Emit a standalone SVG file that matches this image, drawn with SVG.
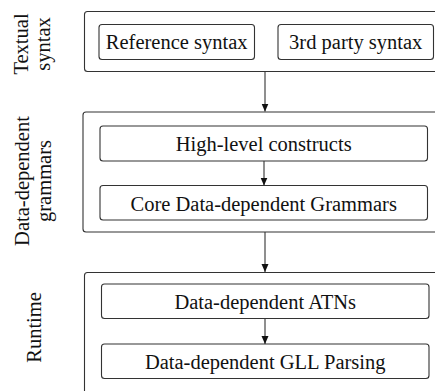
<svg xmlns="http://www.w3.org/2000/svg" width="435" height="391" viewBox="0 0 435 391">
  <defs>
    <marker id="arrow" viewBox="0 0 8 10" refX="8" refY="5" markerWidth="8" markerHeight="10" markerUnits="userSpaceOnUse" orient="auto">
      <path d="M0,1.5 L8,5 L0,8.5 Z" fill="#111"/>
    </marker>
    <style>
      .layer { fill: #fff; stroke: #333; stroke-width: 1.1; }
      .box { fill: #fff; stroke: #333; stroke-width: 1.1; }
      .lbl { font-family: "Liberation Serif", "Times New Roman", serif; font-size: 20.5px; fill: #111; text-anchor: middle; }
      .side { font-family: "Liberation Serif", "Times New Roman", serif; font-size: 20.5px; fill: #111; text-anchor: middle; }
      .edge { stroke: #333; stroke-width: 1.1; fill: none; marker-end: url(#arrow); }
    </style>
  </defs>

  <rect width="435" height="391" fill="#fff"/>

  <!-- Textual syntax layer -->
  <g id="layer-textual">
    <rect class="layer" x="84.5" y="11.5" width="420" height="60" rx="3"/>
    <text class="side" transform="translate(27.5,44) rotate(-90)">Textual</text>
    <text class="side" transform="translate(49.5,44) rotate(-90)">syntax</text>
  </g>
  <g id="reference-syntax">
    <rect class="box" x="99" y="24.5" width="155.5" height="35" rx="3"/>
    <text class="lbl" x="176.7" y="49.3">Reference syntax</text>
  </g>
  <g id="third-party-syntax">
    <rect class="box" x="278" y="24.5" width="155.5" height="35" rx="3"/>
    <text class="lbl" x="355.7" y="49.3">3rd party syntax</text>
  </g>

  <!-- Data-dependent grammars layer -->
  <g id="layer-grammars">
    <rect class="layer" x="83" y="112" width="420" height="120" rx="3"/>
    <text class="side" transform="translate(28.5,181) rotate(-90)">Data-dependent</text>
    <text class="side" transform="translate(50.5,181) rotate(-90)">grammars</text>
  </g>
  <g id="high-level-constructs">
    <rect class="box" x="100" y="126" width="327.5" height="35" rx="3"/>
    <text class="lbl" x="263.7" y="151">High-level constructs</text>
  </g>
  <g id="core-grammars">
    <rect class="box" x="100" y="185.5" width="327.5" height="34.5" rx="3"/>
    <text class="lbl" x="263.7" y="210.5">Core Data-dependent Grammars</text>
  </g>

  <!-- Runtime layer -->
  <g id="layer-runtime">
    <rect class="layer" x="84.5" y="272.5" width="420" height="140" rx="3"/>
    <text class="side" transform="translate(41,327.5) rotate(-90)">Runtime</text>
  </g>
  <g id="dd-atns">
    <rect class="box" x="101.5" y="284" width="327.5" height="34.5" rx="3"/>
    <text class="lbl" x="265.2" y="308.5">Data-dependent ATNs</text>
  </g>
  <g id="dd-gll">
    <rect class="box" x="101.5" y="344" width="327.5" height="34.5" rx="3"/>
    <text class="lbl" x="265.2" y="368.5">Data-dependent GLL Parsing</text>
  </g>

  <!-- Connectors -->
  <g id="connectors">
    <line class="edge" x1="265" y1="72" x2="265" y2="111.5"/>
    <line class="edge" x1="264" y1="161" x2="264" y2="185.5"/>
    <line class="edge" x1="265" y1="232" x2="265" y2="272"/>
    <line class="edge" x1="265" y1="318.5" x2="265" y2="344"/>
  </g>
</svg>
